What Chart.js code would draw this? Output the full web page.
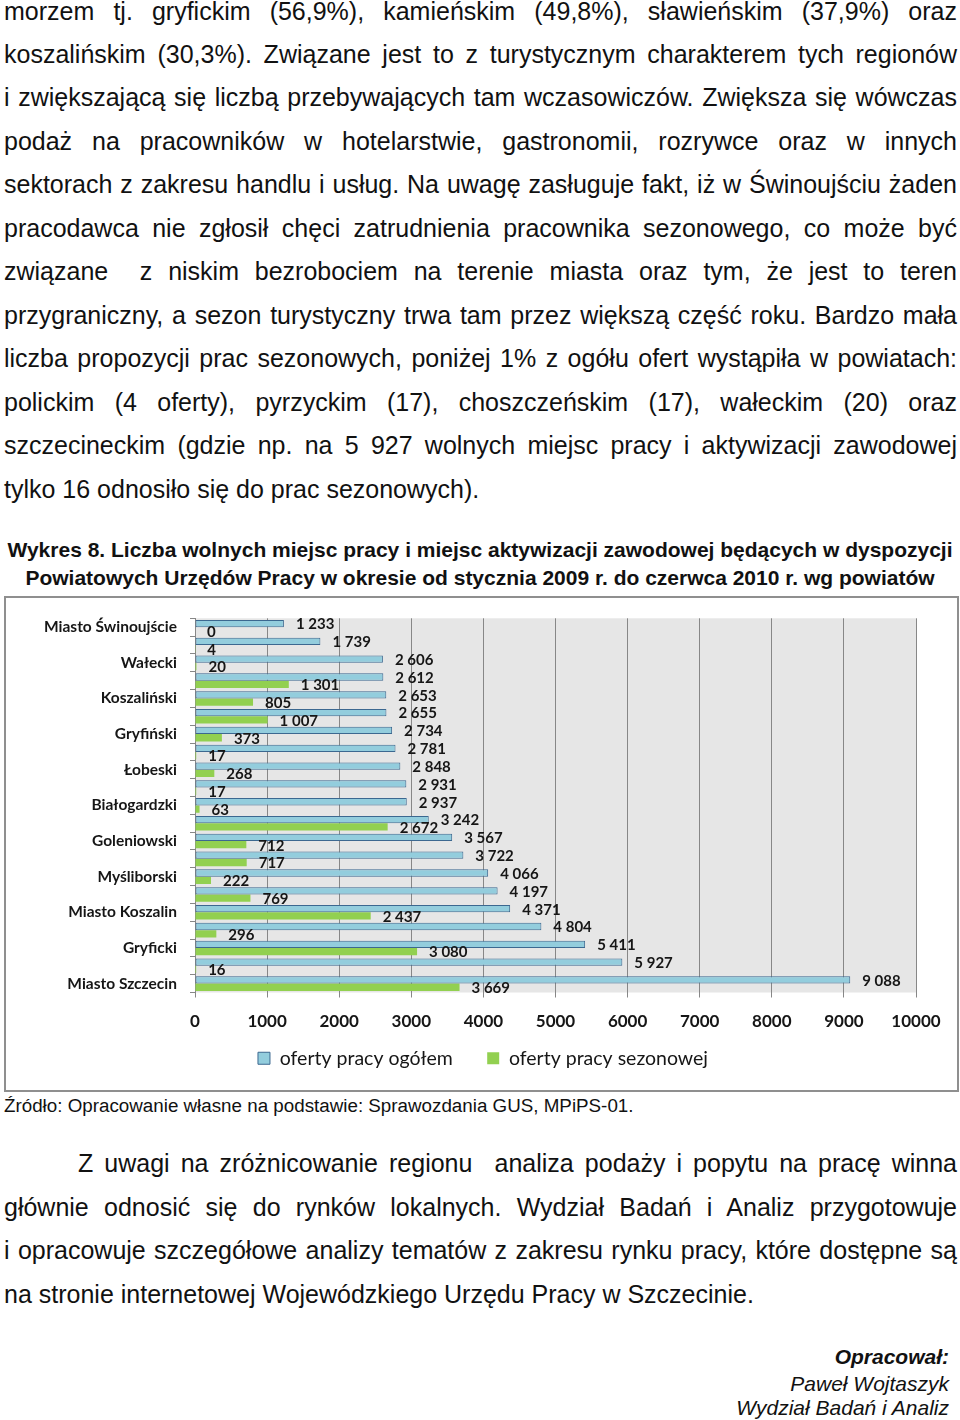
<!DOCTYPE html>
<html lang="pl">
<head>
<meta charset="utf-8">
<script src="https://cdn.jsdelivr.net/npm/chart.js@4"></script>
<style>
body { margin:0; width:960px; height:1420px; position:relative; overflow:hidden; background:#fff; font-family:"Liberation Sans", Arial, sans-serif; color:#111; }
.ln { position:absolute; left:4px; height:30px; line-height:30px; font-size:25px; white-space:nowrap; }
.cap { position:absolute; left:0; width:960px; text-align:center; font-weight:bold; font-size:21px; height:28px; line-height:28px; white-space:nowrap; }
#frame { position:absolute; left:4px; top:596px; width:951px; height:492px; border:2px solid #8f8f8f; }
#wrap { position:absolute; left:0; top:596px; width:960px; height:494px; }
.src { position:absolute; left:4px; top:1094px; font-size:18.8px; line-height:24px; white-space:nowrap; }
.sig { position:absolute; right:11px; font-size:21px; line-height:26px; font-style:italic; white-space:nowrap; }
</style>
</head>
<body>

<div class="ln j" style="top:-4px">morzem tj. gryfickim (56,9%), kamieńskim (49,8%), sławieńskim (37,9%) oraz</div>
<div class="ln j" style="top:39px">koszalińskim (30,3%). Związane jest to z turystycznym charakterem tych regionów</div>
<div class="ln j" style="top:82px">i zwiększającą się liczbą przebywających tam wczasowiczów. Zwiększa się wówczas</div>
<div class="ln j" style="top:126px">podaż na pracowników w hotelarstwie, gastronomii, rozrywce oraz w innych</div>
<div class="ln j" style="top:169px">sektorach z zakresu handlu i usług. Na uwagę zasługuje fakt, iż w Świnoujściu żaden</div>
<div class="ln j" style="top:213px">pracodawca nie zgłosił chęci zatrudnienia pracownika sezonowego, co może być</div>
<div class="ln j" style="top:256px">związane &nbsp;z niskim bezrobociem na terenie miasta oraz tym, że jest to teren</div>
<div class="ln j" style="top:300px">przygraniczny, a sezon turystyczny trwa tam przez większą część roku. Bardzo mała</div>
<div class="ln j" style="top:343px">liczba propozycji prac sezonowych, poniżej 1% z ogółu ofert wystąpiła w powiatach:</div>
<div class="ln j" style="top:387px">polickim (4 oferty), pyrzyckim (17), choszczeńskim (17), wałeckim (20) oraz</div>
<div class="ln j" style="top:430px">szczecineckim (gdzie np. na 5 927 wolnych miejsc pracy i aktywizacji zawodowej</div>
<div class="ln" style="top:474px">tylko 16 odnosiło się do prac sezonowych).</div>

<div class="cap" style="top:536px">Wykres 8. Liczba wolnych miejsc pracy i miejsc aktywizacji zawodowej będących w dyspozycji</div>
<div class="cap" style="top:564px">Powiatowych Urzędów Pracy w okresie od stycznia 2009 r. do czerwca 2010 r. wg powiatów</div>

<div id="frame"></div>
<div id="wrap"><canvas id="chart"></canvas></div>

<div class="src">Źródło: Opracowanie własne na podstawie: Sprawozdania GUS, MPiPS-01.</div>

<div class="ln j" style="top:1148px;left:78px" data-w="879">Z uwagi na zróżnicowanie regionu &nbsp;analiza podaży i popytu na pracę winna</div>
<div class="ln j" style="top:1192px">głównie odnosić się do rynków lokalnych. Wydział Badań i Analiz przygotowuje</div>
<div class="ln j" style="top:1235px">i opracowuje szczegółowe analizy tematów z zakresu rynku pracy, które dostępne są</div>
<div class="ln" style="top:1279px">na stronie internetowej Wojewódzkiego Urzędu Pracy w Szczecinie.</div>

<div class="sig" style="top:1344px;font-weight:bold">Opracował:</div>
<div class="sig" style="top:1371px">Paweł Wojtaszyk</div>
<div class="sig" style="top:1395px">Wydział Badań i Analiz</div>

<script>
// powiaty, top to bottom
const categories = [
    'Miasto Świnoujście', 'Policki', 'Wałecki', 'Kamieński', 'Koszaliński',
    'Sławieński', 'Gryfiński', 'Choszczeński', 'Łobeski', 'Pyrzycki',
    'Białogardzki', 'Kołobrzeski', 'Goleniowski', 'Świdwiński', 'Myśliborski',
    'Drawski', 'Miasto Koszalin', 'Stargardzki', 'Gryficki', 'Szczecinecki',
    'Miasto Szczecin'
];
const totalOffers = [1233, 1739, 2606, 2612, 2653, 2655, 2734, 2781, 2848, 2931,
    2937, 3242, 3567, 3722, 4066, 4197, 4371, 4804, 5411, 5927, 9088];
const seasonalOffers = [0, 4, 20, 1301, 805, 1007, 373, 17, 268, 17,
    63, 2672, 712, 717, 222, 769, 2437, 296, 3080, 16, 3669];
const seriesNames = ['oferty pracy ogółem', 'oferty pracy sezonowej'];
const xMin = 0, xMax = 10000, xStep = 1000;

// justify single lines by stretching word spacing
document.querySelectorAll('.j').forEach(el => {
    const target = el.dataset.w ? +el.dataset.w : 953;
    const spaces = (el.textContent.match(/[ \u00a0]/g) || []).length;
    const w = el.getBoundingClientRect().width;
    if (spaces) el.style.wordSpacing = ((target - w) / spaces) + 'px';
});

const fmt = v => String(v).replace(/\B(?=(\d{3})+(?!\d))/g, ' ');
const chartFont = 'Lato';

const plotBg = {
    id: 'plotBg',
    beforeDraw(chart) {
        const a = chart.chartArea, ctx = chart.ctx;
        ctx.save();
        ctx.fillStyle = '#e6e6e6';
        ctx.fillRect(a.left, a.top, a.right - a.left, a.bottom - a.top);
        ctx.restore();
    }
};

const barLabels = {
    id: 'barLabels',
    afterDatasetsDraw(chart) {
        const ctx = chart.ctx;
        ctx.save();
        ctx.font = 'bold 15px ' + chartFont;
        ctx.fillStyle = '#161616';
        ctx.textBaseline = 'middle';
        chart.data.datasets.forEach((ds, di) => {
            chart.getDatasetMeta(di).data.forEach((bar, i) => {
                ctx.fillText(fmt(ds.data[i]), bar.x + 12, bar.y + 1);
            });
        });
        ctx.restore();
    }
};

// nudge the legend row a bit to the right, like the original
const legendShift = {
    id: 'legendShift',
    afterLayout(chart) {
        chart.legend.left += 25;
        chart.legend.right += 25;
    }
};

new Chart(document.getElementById('chart'), {
    type: 'bar',
    data: {
        labels: categories,
        datasets: [{
            label: seriesNames[0],
            data: totalOffers,
            backgroundColor: '#93cddd',
            borderColor: '#3c6890',
            borderWidth: 1,
            borderSkipped: false
        }, {
            label: seriesNames[1],
            data: seasonalOffers,
            backgroundColor: '#92d050',
            borderWidth: 0
        }]
    },
    options: {
        indexAxis: 'y',
        responsive: true,
        maintainAspectRatio: false,
        animation: false,
        categoryPercentage: 0.82,
        barPercentage: 1,
        layout: { padding: { top: 22, right: 44, left: 0, bottom: 12 } },
        scales: {
            x: {
                min: xMin, max: xMax,
                ticks: { stepSize: xStep, color: '#161616', padding: 14,
                    font: { family: chartFont, weight: 'bold', size: 17 },
                    callback: v => String(v) },
                grid: { color: '#878787', tickLength: 5 },
                border: { display: false },
                afterFit(s) { s.height = 46; }
            },
            y: {
                ticks: { autoSkip: false, color: '#161616', padding: 13,
                    font: { family: chartFont, weight: 'bold', size: 15.5 },
                    callback: (v, i) => i % 2 === 0 ? categories[i] : '' },
                grid: { drawOnChartArea: false, tickLength: 5, color: '#878787' },
                border: { color: '#878787' },
                afterFit(s) { s.width = 195; }
            }
        },
        plugins: {
            legend: {
                position: 'bottom',
                labels: {
                    boxWidth: 12, boxHeight: 12, padding: 10, color: '#161616',
                    font: { family: chartFont, size: 19.5 },
                    // wider gap between the two legend entries
                    generateLabels(chart) {
                        const items = Chart.defaults.plugins.legend.labels.generateLabels(chart);
                        items[0].text += '\u2003\u2002';
                        return items;
                    }
                }
            },
            tooltip: { enabled: false }
        }
    },
    plugins: [plotBg, barLabels, legendShift]
});
</script>
</body>
</html>
